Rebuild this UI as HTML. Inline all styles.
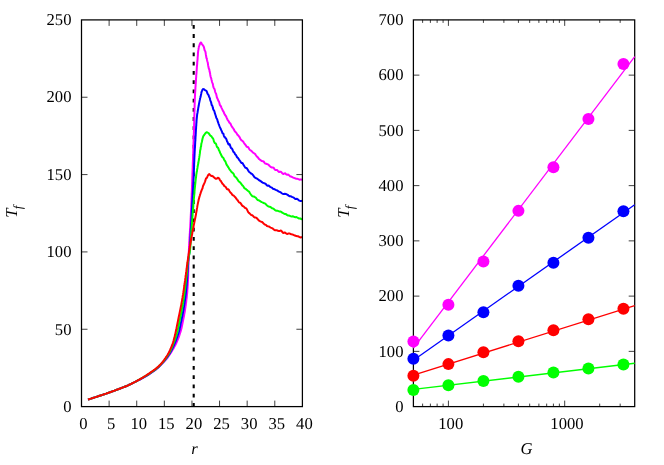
<!DOCTYPE html>
<html><head><meta charset="utf-8"><title>plot</title>
<style>html,body{margin:0;padding:0;background:#fff;}body{width:664px;height:465px;overflow:hidden;}svg{display:block;will-change:transform;text-rendering:geometricPrecision;}text{font-family:"Liberation Serif",serif;fill:#000;}</style>
</head><body>
<svg width="664" height="465" viewBox="0 0 664 465">
<rect x="0" y="0" width="664" height="465" fill="#ffffff"/>
<defs><clipPath id="cl"><rect x="81.5" y="19.9" width="220.9" height="386.7"/></clipPath></defs>
<line x1="193.7" y1="24.9" x2="193.7" y2="406.6" stroke="#000" stroke-width="2.1" stroke-dasharray="3.8 5.42"/>
<polyline points="88.0,399.5 89.0,399.2 89.9,398.9 90.9,398.6 91.8,398.3 92.8,398.0 93.7,397.7 94.7,397.4 95.6,397.1 96.6,396.8 97.5,396.5 98.5,396.1 99.4,395.8 100.4,395.5 101.3,395.2 102.3,394.9 103.2,394.6 104.2,394.3 105.1,393.9 106.1,393.6 107.0,393.3 108.0,393.0 108.9,392.6 109.8,392.3 110.8,392.0 111.7,391.6 112.7,391.3 113.6,390.9 114.5,390.6 115.5,390.2 116.4,389.9 117.4,389.5 118.3,389.2 119.2,388.8 120.2,388.5 121.1,388.1 122.0,387.8 123.0,387.4 123.9,387.1 124.8,386.7 125.8,386.3 126.7,386.0 127.6,385.6 128.5,385.2 129.4,384.7 130.3,384.3 131.2,383.9 132.1,383.4 133.0,383.0 133.9,382.5 134.8,382.1 135.7,381.6 136.6,381.1 137.5,380.7 138.4,380.2 139.3,379.8 140.2,379.3 141.1,378.9 141.9,378.4 142.8,378.0 143.7,377.5 144.6,377.0 145.5,376.5 146.3,376.1 147.2,375.5 148.0,375.0 148.9,374.4 149.7,373.9 150.5,373.3 151.3,372.7 152.2,372.2 153.0,371.6 153.8,371.0 154.6,370.5 155.4,369.9 156.2,369.3 157.0,368.6 157.7,368.0 158.5,367.3 159.2,366.6 159.9,365.9 160.6,365.2 161.3,364.4 162.0,363.7 162.7,363.0 163.4,362.3 164.1,361.6 164.8,360.9 165.5,360.1 166.1,359.4 166.8,358.6 167.4,357.8 168.0,357.0 168.5,356.2 169.1,355.4 169.7,354.5 170.2,353.7 170.8,352.9 171.3,352.0 171.8,351.2 172.3,350.3 172.8,349.4 173.4,348.6 173.9,347.7 174.3,346.8 174.8,345.9 175.3,345.1 175.8,344.2 176.2,343.3 176.6,342.4 177.0,341.5 177.4,340.5 177.8,339.6 178.2,338.7 178.5,337.8 178.9,336.8 179.2,335.9 179.5,334.9 179.8,334.0 180.1,333.0 180.4,332.1 180.7,331.1 181.0,330.1 181.2,329.2 181.5,328.2 181.7,327.2 181.9,326.3 182.1,325.3 182.3,324.3 182.5,323.3 182.7,322.3 182.9,321.3 183.1,320.4 183.3,319.4 183.5,318.4 183.7,317.4 183.9,316.4 184.1,315.5 184.2,314.5 184.4,313.5 184.6,312.5 184.8,311.5 184.9,310.5 185.1,309.5 185.2,308.6 185.4,307.6 185.5,306.6 185.7,305.6 185.8,304.6 185.9,303.6 186.1,302.6 186.2,301.6 186.3,300.6 186.4,299.6 186.6,298.6 186.7,297.6 186.8,296.7 186.9,295.7 187.0,294.7 187.1,293.7 187.2,292.7 187.3,291.7 187.3,290.7 187.4,289.7 187.5,288.7 187.6,287.7 187.6,286.7 187.7,285.7 187.8,284.7 187.8,283.7 187.9,282.7 187.9,281.7 188.0,280.7 188.0,279.7 188.1,278.7 188.1,277.7 188.1,276.7 188.2,275.7 188.2,274.7 188.2,273.7 188.2,272.7 188.3,271.7 188.3,270.7 188.3,269.7 188.4,268.7 188.4,267.7 188.4,266.7 188.4,265.7 188.5,264.7 188.5,263.7 188.5,262.7 188.5,261.7 188.6,260.7 188.6,259.7 188.6,258.7 188.7,257.7 188.7,256.7 188.7,255.7 188.7,254.7 188.8,253.7 188.8,252.7 188.8,251.7 188.9,250.7 188.9,249.7 189.0,248.7 189.0,247.7 189.0,246.7 189.1,245.7 189.1,244.7 189.2,243.7 189.2,242.7 189.3,241.7 189.4,240.7 189.4,239.7 189.5,238.7 189.5,237.7 189.6,236.7 189.7,235.7 189.7,234.7 189.8,233.7 189.9,232.7 189.9,231.7 190.0,230.7 190.0,229.7 190.1,228.7 190.2,227.7 190.2,226.8 190.3,225.8 190.3,224.8 190.4,223.8 190.4,222.8 190.5,221.8 190.5,220.8 190.6,219.8 190.6,218.8 190.7,217.8 190.7,216.8 190.8,215.8 190.8,214.8 190.9,213.8 190.9,212.8 191.0,211.8 191.0,210.8 191.1,209.8 191.1,208.8 191.2,207.8 191.2,206.8 191.2,205.8 191.3,204.8 191.3,203.8 191.4,202.8 191.4,201.8 191.5,200.8 191.5,199.8 191.5,198.8 191.6,197.8 191.6,196.8 191.7,195.8 191.7,194.8 191.7,193.8 191.8,192.8 191.8,191.8 191.9,190.8 191.9,189.8 191.9,188.8 192.0,187.8 192.0,186.8 192.0,185.8 192.1,184.8 192.1,183.8 192.1,182.8 192.2,181.8 192.2,180.8 192.2,179.8 192.3,178.8 192.3,177.8 192.3,176.8 192.4,175.8 192.4,174.8 192.4,173.8 192.5,172.8 192.5,171.8 192.6,170.8 192.6,169.8 192.6,168.8 192.7,167.8 192.7,166.8 192.7,165.8 192.8,164.8 192.8,163.8 192.8,162.8 192.9,161.8 192.9,160.8 193.0,159.8 193.0,158.8 193.0,157.8 193.1,156.8 193.1,155.8 193.1,154.8 193.2,153.8 193.2,152.8 193.2,151.8 193.3,150.8 193.3,149.8 193.3,148.8 193.4,147.8 193.4,146.8 193.4,145.8 193.5,144.8 193.5,143.8 193.5,142.8 193.6,141.8 193.6,140.8 193.6,139.8 193.7,138.8 193.7,137.8 193.7,136.8 193.8,135.8 193.8,134.8 193.8,133.8 193.9,132.8 193.9,131.8 193.9,130.8 194.0,129.8 194.0,128.8 194.0,127.8 194.0,126.8 194.1,125.8 194.1,124.8 194.1,123.8 194.2,122.8 194.2,121.8 194.2,120.8 194.2,119.8 194.3,118.8 194.3,117.8 194.3,116.8 194.3,115.8 194.4,114.8 194.4,113.8 194.4,112.8 194.4,111.8 194.5,110.8 194.5,109.8 194.5,108.8 194.5,107.8 194.6,106.8 194.6,105.8 194.6,104.8 194.7,103.8 194.7,102.8 194.7,101.8 194.8,100.8 194.8,99.8 194.8,98.8 194.9,97.8 194.9,96.8 195.0,95.8 195.0,94.8 195.1,93.8 195.1,92.8 195.2,91.8 195.3,90.8 195.3,89.9 195.4,88.9 195.4,87.9 195.5,86.9 195.6,85.9 195.6,84.9 195.7,83.9 195.8,82.9 195.8,81.9 195.9,80.9 196.0,79.9 196.0,78.9 196.1,77.9 196.2,76.9 196.2,75.9 196.3,74.9 196.4,73.9 196.5,72.9 196.5,71.9 196.6,70.9 196.7,69.9 196.8,68.9 196.8,67.9 196.9,66.9 197.0,65.9 197.1,64.9 197.2,63.9 197.2,62.9 197.3,61.9 197.4,60.9 197.5,59.9 197.6,58.9 197.6,57.9 197.7,56.9 197.8,55.9 197.9,54.9 197.9,53.8 198.0,52.8 198.1,51.8 198.2,50.8 198.4,49.9 198.5,48.9 198.7,47.9 198.8,47.0 199.2,45.9 199.6,44.7 200.1,43.5 200.7,42.5 201.2,42.7 201.7,43.7 202.3,44.6 202.8,45.2 203.3,45.9 203.7,46.6 204.0,47.5 204.4,49.2 204.7,50.5 205.1,51.0 205.4,51.6 205.6,52.7 205.8,54.2 206.0,55.3 206.2,56.5 206.4,57.8 206.6,58.3 206.8,58.4 206.9,59.2 207.1,60.3 207.3,61.2 207.5,61.8 207.8,62.8 208.0,64.3 208.2,65.7 208.5,67.0 208.7,68.1 208.9,69.0 209.2,69.2 209.4,70.0 209.6,71.6 209.9,72.5 210.1,73.5 210.3,75.0 210.6,76.5 210.8,77.3 211.0,77.7 211.3,78.6 211.5,79.7 211.8,80.8 212.0,81.8 212.3,82.6 212.5,83.1 212.8,83.8 213.1,85.5 213.4,87.0 213.7,87.7 214.0,88.3 214.3,88.7 214.6,89.4 214.9,90.5 215.2,92.0 215.6,93.0 215.9,93.4 216.2,94.2 216.6,95.9 216.9,97.5 217.2,98.1 217.6,98.7 217.9,99.8 218.3,100.6 218.6,101.2 219.0,101.7 219.4,103.1 219.8,104.7 220.2,105.5 220.6,105.7 221.0,106.4 221.4,107.6 221.9,108.6 222.4,109.6 222.8,110.6 223.3,111.3 223.8,112.3 224.3,113.5 224.7,114.5 225.2,115.3 225.7,115.8 226.2,116.6 226.6,117.7 227.1,118.8 227.6,119.8 228.1,120.5 228.6,121.2 229.1,122.2 229.6,122.9 230.2,123.3 230.7,124.1 231.2,125.4 231.7,126.4 232.3,127.2 232.8,127.9 233.3,128.4 233.9,129.5 234.4,130.7 235.0,131.5 235.5,132.0 236.1,132.4 236.7,133.4 237.3,134.6 237.8,135.0 238.4,135.7 239.0,136.5 239.6,137.2 240.2,138.5 240.9,139.7 241.5,140.4 242.1,140.7 242.7,141.1 243.4,141.9 244.0,143.0 244.7,144.0 245.4,144.7 246.0,145.6 246.7,146.7 247.4,147.1 248.1,147.1 248.7,148.0 249.4,149.4 250.1,150.1 250.8,150.4 251.5,151.0 252.3,151.9 253.0,152.6 253.7,153.0 254.4,153.5 255.2,154.1 255.9,155.3 256.6,156.3 257.4,156.8 258.2,157.9 258.9,158.9 259.7,159.5 260.5,160.1 261.3,160.6 262.0,161.1 262.8,161.2 263.6,161.4 264.4,162.6 265.3,163.6 266.1,163.7 266.9,164.0 267.7,164.2 268.5,164.8 269.4,165.7 270.2,166.4 271.1,167.2 271.9,167.6 272.8,167.5 273.7,167.9 274.5,169.1 275.4,170.1 276.3,170.0 277.2,170.1 278.1,171.2 279.0,171.9 279.9,171.7 280.8,171.8 281.7,172.6 282.6,173.6 283.5,174.0 284.4,173.4 285.3,173.3 286.2,174.4 287.1,174.7 288.1,174.5 289.0,175.2 289.9,176.2 290.9,176.5 291.8,176.9 292.7,177.4 293.7,177.8 294.6,178.1 295.6,178.5 296.5,178.8 297.5,178.8 298.4,179.2 299.4,179.7 300.3,179.6 301.3,179.6 302.2,179.7 302.4,179.8" fill="none" stroke="#ff00ff" stroke-width="2" stroke-linejoin="round" stroke-linecap="butt" clip-path="url(#cl)"/>
<polyline points="88.0,399.5 89.0,399.2 89.9,398.9 90.9,398.6 91.8,398.3 92.8,398.0 93.7,397.7 94.7,397.4 95.6,397.1 96.6,396.8 97.5,396.5 98.5,396.1 99.4,395.8 100.4,395.5 101.3,395.2 102.3,394.9 103.2,394.6 104.2,394.3 105.1,393.9 106.1,393.6 107.0,393.3 108.0,393.0 108.9,392.6 109.8,392.3 110.8,392.0 111.7,391.6 112.7,391.3 113.6,390.9 114.5,390.6 115.5,390.2 116.4,389.9 117.4,389.5 118.3,389.2 119.2,388.8 120.2,388.5 121.1,388.1 122.0,387.8 123.0,387.4 123.9,387.1 124.8,386.7 125.8,386.3 126.7,386.0 127.6,385.6 128.5,385.2 129.4,384.7 130.3,384.3 131.2,383.9 132.1,383.4 133.0,383.0 133.9,382.5 134.8,382.0 135.7,381.6 136.6,381.1 137.5,380.7 138.3,380.2 139.2,379.8 140.1,379.3 141.0,378.8 141.9,378.4 142.8,377.9 143.7,377.4 144.5,376.9 145.4,376.4 146.3,375.9 147.1,375.4 148.0,374.9 148.8,374.3 149.6,373.8 150.4,373.2 151.3,372.6 152.1,372.0 152.9,371.5 153.7,370.9 154.6,370.3 155.4,369.7 156.2,369.1 156.9,368.5 157.7,367.9 158.4,367.2 159.1,366.5 159.8,365.8 160.5,365.1 161.2,364.3 161.9,363.6 162.6,362.9 163.3,362.1 163.9,361.3 164.6,360.6 165.2,359.8 165.8,359.0 166.4,358.2 167.0,357.4 167.6,356.6 168.2,355.8 168.7,355.0 169.3,354.1 169.8,353.3 170.3,352.4 170.8,351.5 171.3,350.7 171.8,349.8 172.2,348.9 172.6,348.0 173.1,347.1 173.5,346.2 173.9,345.3 174.3,344.4 174.7,343.4 175.1,342.5 175.5,341.6 175.9,340.7 176.3,339.7 176.6,338.8 176.9,337.9 177.3,336.9 177.6,336.0 177.9,335.0 178.2,334.1 178.5,333.1 178.8,332.2 179.1,331.2 179.3,330.2 179.6,329.3 179.8,328.3 180.0,327.3 180.2,326.3 180.4,325.4 180.6,324.4 180.8,323.4 181.0,322.4 181.2,321.4 181.4,320.5 181.6,319.5 181.8,318.5 182.0,317.5 182.2,316.5 182.4,315.5 182.6,314.6 182.8,313.6 183.0,312.6 183.1,311.6 183.3,310.6 183.5,309.6 183.6,308.7 183.8,307.7 184.0,306.7 184.1,305.7 184.3,304.7 184.4,303.7 184.6,302.7 184.7,301.7 184.9,300.8 185.0,299.8 185.1,298.8 185.3,297.8 185.4,296.8 185.5,295.8 185.6,294.8 185.8,293.8 185.9,292.8 186.0,291.8 186.1,290.8 186.2,289.8 186.3,288.8 186.4,287.8 186.5,286.8 186.6,285.9 186.7,284.9 186.7,283.9 186.8,282.9 186.9,281.9 187.0,280.9 187.0,279.9 187.1,278.9 187.2,277.9 187.3,276.9 187.3,275.9 187.4,274.9 187.4,273.9 187.5,272.9 187.6,271.9 187.6,270.9 187.7,269.9 187.8,268.9 187.8,267.9 187.9,266.9 187.9,265.9 188.0,264.9 188.1,263.9 188.1,262.9 188.2,261.9 188.3,260.9 188.4,259.9 188.5,258.9 188.6,257.9 188.8,256.9 188.9,256.0 189.1,255.0 189.2,254.0 189.4,253.0 189.5,252.0 189.6,251.0 189.7,250.0 189.8,249.0 189.9,248.0 189.9,247.0 190.0,246.0 190.1,245.0 190.1,244.0 190.2,243.0 190.2,242.0 190.3,241.0 190.3,240.0 190.4,239.0 190.4,238.0 190.5,237.0 190.5,236.0 190.6,235.0 190.6,234.0 190.7,233.0 190.7,232.0 190.8,231.0 190.8,230.0 190.9,229.0 190.9,228.0 191.0,227.0 191.0,226.0 191.1,225.0 191.1,224.0 191.2,223.0 191.3,222.0 191.3,221.0 191.4,220.0 191.4,219.0 191.5,218.0 191.5,217.1 191.6,216.1 191.6,215.1 191.7,214.1 191.7,213.1 191.8,212.1 191.8,211.1 191.9,210.1 191.9,209.1 192.0,208.1 192.0,207.1 192.1,206.1 192.1,205.1 192.2,204.1 192.2,203.1 192.3,202.1 192.3,201.1 192.4,200.1 192.5,199.1 192.5,198.1 192.6,197.1 192.6,196.1 192.7,195.1 192.7,194.1 192.8,193.1 192.9,192.1 192.9,191.1 193.0,190.1 193.1,189.1 193.1,188.1 193.2,187.1 193.2,186.1 193.3,185.1 193.3,184.1 193.4,183.1 193.4,182.1 193.5,181.1 193.5,180.1 193.6,179.1 193.6,178.1 193.7,177.1 193.7,176.1 193.8,175.1 193.8,174.1 193.8,173.1 193.9,172.1 193.9,171.1 193.9,170.1 194.0,169.1 194.0,168.1 194.0,167.1 194.1,166.1 194.1,165.1 194.1,164.1 194.2,163.1 194.2,162.1 194.3,161.1 194.3,160.1 194.3,159.1 194.4,158.1 194.4,157.1 194.5,156.1 194.5,155.1 194.6,154.1 194.6,153.1 194.7,152.1 194.7,151.1 194.8,150.1 194.8,149.1 194.9,148.1 195.0,147.1 195.0,146.1 195.1,145.1 195.1,144.1 195.2,143.1 195.2,142.1 195.3,141.1 195.4,140.1 195.4,139.1 195.5,138.2 195.5,137.2 195.6,136.2 195.7,135.2 195.7,134.2 195.8,133.2 195.8,132.2 195.9,131.2 195.9,130.2 196.0,129.2 196.1,128.2 196.1,127.2 196.2,126.2 196.3,125.2 196.3,124.2 196.4,123.2 196.5,122.2 196.5,121.2 196.6,120.2 196.7,119.2 196.8,118.2 196.9,117.2 197.0,116.2 197.1,115.2 197.2,114.2 197.4,113.2 197.6,112.2 197.7,111.3 197.9,110.3 198.1,109.3 198.2,108.3 198.4,107.3 198.6,106.3 198.8,105.3 198.9,104.4 199.1,103.4 199.3,102.4 199.5,101.4 199.7,100.4 199.9,99.5 200.1,98.4 200.3,97.8 200.6,96.8 200.8,95.6 201.0,94.7 201.2,93.9 201.4,92.7 201.7,91.6 202.0,90.9 202.4,89.9 203.0,89.1 203.8,89.2 204.7,89.8 205.5,90.3 206.1,90.6 206.6,91.2 207.1,92.4 207.5,93.7 207.9,94.2 208.3,94.6 208.7,95.5 209.1,96.6 209.5,97.5 209.9,98.5 210.2,100.0 210.5,100.9 210.8,101.5 211.1,102.3 211.4,103.7 211.6,104.9 211.9,105.3 212.3,105.7 212.6,106.7 212.9,108.1 213.3,109.5 213.6,110.0 214.0,110.4 214.3,111.1 214.7,112.5 215.0,113.7 215.3,114.5 215.7,115.6 216.0,116.9 216.4,117.9 216.7,118.4 217.0,118.9 217.4,120.0 217.7,121.4 218.0,122.2 218.4,123.2 218.7,124.1 219.1,125.0 219.5,126.1 219.9,127.1 220.3,128.0 220.7,128.7 221.1,129.9 221.6,130.9 222.0,131.7 222.4,133.1 222.9,133.5 223.4,133.7 223.8,135.5 224.3,136.8 224.8,137.0 225.2,137.6 225.7,138.3 226.2,138.8 226.7,140.2 227.1,141.5 227.6,142.2 228.1,143.6 228.6,144.4 229.2,144.0 229.7,144.4 230.2,145.9 230.7,147.4 231.2,148.2 231.8,148.5 232.3,149.1 232.8,150.4 233.4,151.8 233.9,152.1 234.5,152.9 235.0,154.1 235.6,154.7 236.2,155.4 236.8,156.8 237.3,157.5 237.9,157.8 238.5,158.7 239.1,159.8 239.7,160.5 240.4,161.4 241.0,162.5 241.6,163.0 242.3,163.0 242.9,163.7 243.6,164.9 244.2,165.9 244.9,167.1 245.5,167.8 246.2,167.9 246.9,168.4 247.5,169.3 248.2,170.5 248.9,171.6 249.6,172.3 250.3,172.8 251.0,173.5 251.7,173.8 252.4,174.3 253.2,175.3 253.9,176.4 254.6,177.3 255.4,177.9 256.2,178.2 257.0,178.6 257.8,179.1 258.6,179.9 259.4,180.5 260.2,180.8 261.0,181.3 261.9,182.2 262.7,182.7 263.5,182.9 264.4,183.3 265.2,183.6 266.1,184.3 266.9,185.4 267.8,185.8 268.7,185.6 269.5,186.2 270.4,187.1 271.3,187.4 272.2,187.9 273.0,188.8 273.9,189.0 274.8,189.4 275.7,189.9 276.6,190.2 277.6,190.7 278.5,191.4 279.4,191.8 280.3,192.1 281.2,192.8 282.1,193.5 283.0,194.0 283.9,194.0 284.9,193.8 285.8,193.9 286.7,194.3 287.7,194.9 288.6,195.6 289.5,196.2 290.5,196.3 291.4,196.5 292.3,197.1 293.3,197.4 294.2,198.0 295.1,198.9 296.0,199.0 297.0,198.8 297.9,199.3 298.8,200.3 299.7,200.7 300.6,201.0 301.5,200.9 302.4,200.6" fill="none" stroke="#0000ff" stroke-width="2" stroke-linejoin="round" stroke-linecap="butt" clip-path="url(#cl)"/>
<polyline points="88.0,399.5 89.0,399.2 89.9,398.9 90.9,398.6 91.8,398.3 92.8,398.0 93.7,397.7 94.7,397.4 95.6,397.1 96.6,396.8 97.5,396.5 98.5,396.1 99.4,395.8 100.4,395.5 101.3,395.2 102.3,394.9 103.2,394.6 104.2,394.3 105.1,393.9 106.1,393.6 107.0,393.3 108.0,393.0 108.9,392.6 109.8,392.3 110.8,392.0 111.7,391.6 112.7,391.3 113.6,390.9 114.5,390.6 115.5,390.2 116.4,389.9 117.4,389.5 118.3,389.2 119.2,388.8 120.2,388.5 121.1,388.1 122.0,387.8 123.0,387.4 123.9,387.1 124.8,386.7 125.8,386.3 126.7,386.0 127.6,385.6 128.5,385.2 129.4,384.7 130.3,384.3 131.2,383.9 132.1,383.4 133.0,383.0 133.9,382.5 134.8,382.0 135.7,381.6 136.6,381.1 137.4,380.6 138.3,380.2 139.2,379.7 140.1,379.2 141.0,378.7 141.8,378.2 142.7,377.7 143.6,377.2 144.4,376.7 145.3,376.2 146.1,375.7 147.0,375.2 147.8,374.6 148.7,374.1 149.5,373.5 150.3,372.9 151.1,372.4 151.9,371.8 152.8,371.2 153.6,370.7 154.4,370.1 155.2,369.5 156.0,368.9 156.8,368.3 157.5,367.6 158.3,366.9 159.0,366.2 159.7,365.5 160.4,364.8 161.1,364.1 161.8,363.3 162.4,362.6 163.1,361.8 163.7,361.1 164.3,360.3 165.0,359.5 165.6,358.7 166.1,357.9 166.7,357.0 167.3,356.2 167.8,355.4 168.4,354.5 168.9,353.7 169.4,352.8 169.9,351.9 170.3,351.0 170.7,350.2 171.2,349.2 171.6,348.3 172.0,347.4 172.4,346.5 172.7,345.5 173.1,344.6 173.5,343.7 173.8,342.8 174.2,341.8 174.5,340.9 174.9,339.9 175.2,339.0 175.5,338.0 175.8,337.1 176.1,336.1 176.4,335.2 176.6,334.2 176.9,333.2 177.2,332.3 177.4,331.3 177.7,330.3 177.9,329.4 178.1,328.4 178.3,327.4 178.5,326.4 178.7,325.5 178.9,324.5 179.1,323.5 179.3,322.5 179.5,321.5 179.7,320.5 179.9,319.6 180.1,318.6 180.3,317.6 180.5,316.6 180.7,315.6 180.9,314.7 181.1,313.7 181.3,312.7 181.5,311.7 181.6,310.7 181.8,309.8 182.0,308.8 182.2,307.8 182.4,306.8 182.5,305.8 182.7,304.8 182.9,303.9 183.1,302.9 183.2,301.9 183.4,300.9 183.5,299.9 183.7,298.9 183.8,297.9 184.0,296.9 184.1,295.9 184.3,295.0 184.4,294.0 184.5,293.0 184.7,292.0 184.8,291.0 184.9,290.0 185.0,289.0 185.2,288.0 185.3,287.0 185.4,286.0 185.5,285.0 185.6,284.0 185.7,283.0 185.8,282.1 185.9,281.1 186.0,280.1 186.1,279.1 186.2,278.1 186.3,277.1 186.5,276.1 186.6,275.1 186.7,274.1 186.8,273.1 186.9,272.1 187.0,271.1 187.1,270.1 187.2,269.1 187.3,268.1 187.3,267.1 187.4,266.1 187.5,265.1 187.6,264.1 187.7,263.1 187.8,262.2 188.0,261.2 188.1,260.2 188.3,259.2 188.5,258.2 188.7,257.2 188.9,256.2 189.1,255.3 189.3,254.3 189.5,253.3 189.7,252.3 189.8,251.3 190.0,250.3 190.1,249.4 190.2,248.4 190.3,247.4 190.4,246.4 190.4,245.4 190.5,244.4 190.6,243.4 190.7,242.4 190.8,241.4 190.8,240.4 190.9,239.4 190.9,238.4 191.0,237.4 191.1,236.4 191.1,235.4 191.2,234.4 191.3,233.4 191.3,232.4 191.4,231.4 191.4,230.4 191.5,229.4 191.6,228.4 191.7,227.4 191.7,226.4 191.8,225.4 191.9,224.4 192.0,223.4 192.0,222.4 192.1,221.4 192.2,220.4 192.3,219.4 192.3,218.4 192.4,217.4 192.5,216.4 192.6,215.4 192.6,214.4 192.7,213.4 192.8,212.4 192.9,211.5 192.9,210.5 193.0,209.5 193.1,208.5 193.2,207.5 193.3,206.5 193.3,205.5 193.4,204.5 193.5,203.5 193.6,202.5 193.7,201.5 193.8,200.5 193.8,199.5 193.9,198.5 194.0,197.5 194.1,196.5 194.2,195.5 194.3,194.5 194.4,193.5 194.5,192.5 194.5,191.5 194.6,190.5 194.7,189.5 194.8,188.5 194.9,187.5 195.0,186.5 195.1,185.5 195.2,184.5 195.3,183.6 195.4,182.6 195.5,181.6 195.6,180.6 195.7,179.6 195.8,178.6 196.0,177.6 196.1,176.6 196.2,175.6 196.3,174.6 196.5,173.6 196.6,172.6 196.8,171.7 197.0,170.7 197.1,169.7 197.3,168.7 197.5,167.7 197.6,166.7 197.8,165.7 198.0,164.8 198.2,163.8 198.4,162.8 198.5,161.8 198.7,160.8 198.9,159.8 199.0,158.8 199.2,157.9 199.3,156.9 199.5,155.9 199.6,154.9 199.8,153.9 199.9,152.9 200.1,150.8 200.2,150.1 200.4,149.7 200.6,148.8 200.7,147.4 200.9,146.7 201.1,146.3 201.2,144.9 201.4,143.5 201.6,142.8 201.7,142.5 201.9,141.7 202.1,140.7 202.3,139.8 202.5,138.8 202.8,137.7 203.1,136.7 203.5,135.8 204.2,135.0 205.0,133.8 205.9,132.6 206.7,132.3 207.5,132.5 208.4,133.0 209.3,134.1 210.2,135.5 210.9,136.0 211.5,136.3 212.0,137.2 212.5,138.0 213.0,138.4 213.5,139.6 213.9,141.4 214.4,142.4 214.8,143.0 215.2,143.2 215.7,143.4 216.2,144.4 216.6,145.8 217.1,147.0 217.6,147.5 218.0,147.7 218.5,148.9 218.9,150.2 219.4,150.9 219.8,152.0 220.3,153.2 220.8,154.1 221.2,155.0 221.7,156.1 222.2,157.0 222.7,157.3 223.2,157.7 223.7,158.6 224.1,159.7 224.6,160.5 225.1,161.1 225.6,162.0 226.1,163.5 226.7,164.9 227.2,165.6 227.7,166.2 228.2,167.2 228.8,168.0 229.3,168.9 229.9,169.9 230.5,170.5 231.0,171.3 231.6,172.0 232.2,172.6 232.8,173.0 233.4,173.5 234.0,174.8 234.6,176.3 235.2,176.8 235.8,177.3 236.4,177.9 237.0,178.7 237.7,179.8 238.3,180.8 239.0,181.6 239.6,182.0 240.3,182.6 240.9,183.4 241.6,184.3 242.2,185.3 242.9,185.7 243.6,186.7 244.3,188.1 244.9,188.5 245.6,188.8 246.3,189.4 247.0,190.0 247.8,190.7 248.5,191.2 249.2,191.8 249.9,193.0 250.7,194.2 251.4,195.2 252.2,196.1 252.9,196.5 253.7,196.4 254.5,196.9 255.3,197.3 256.1,198.0 256.9,199.3 257.7,200.0 258.5,200.2 259.3,200.6 260.2,201.2 261.0,201.8 261.8,202.1 262.7,202.4 263.5,203.1 264.4,203.3 265.3,203.6 266.1,204.5 267.0,205.4 267.8,206.1 268.7,206.5 269.6,206.7 270.5,207.0 271.3,207.7 272.2,208.3 273.1,208.5 274.0,209.1 274.9,210.0 275.8,210.6 276.7,210.7 277.7,210.8 278.6,211.2 279.5,211.6 280.4,211.5 281.3,211.9 282.2,212.6 283.2,213.2 284.1,213.7 285.0,214.0 285.9,214.1 286.9,214.9 287.8,215.5 288.8,215.6 289.7,215.8 290.6,216.2 291.6,216.4 292.5,216.3 293.5,216.5 294.5,217.1 295.4,217.2 296.4,217.0 297.3,217.5 298.3,218.2 299.3,218.5 300.3,218.5 301.3,219.0 302.2,219.3 302.4,218.9" fill="none" stroke="#00ff00" stroke-width="2" stroke-linejoin="round" stroke-linecap="butt" clip-path="url(#cl)"/>
<polyline points="88.0,399.5 89.0,399.2 89.9,398.9 90.9,398.6 91.8,398.3 92.8,398.0 93.7,397.7 94.7,397.4 95.6,397.1 96.6,396.8 97.5,396.5 98.5,396.1 99.4,395.8 100.4,395.5 101.3,395.2 102.3,394.9 103.2,394.6 104.2,394.3 105.1,393.9 106.1,393.6 107.0,393.3 108.0,393.0 108.9,392.6 109.8,392.3 110.8,392.0 111.7,391.6 112.7,391.3 113.6,390.9 114.5,390.6 115.5,390.2 116.4,389.9 117.4,389.5 118.3,389.2 119.2,388.8 120.2,388.5 121.1,388.1 122.0,387.8 123.0,387.4 123.9,387.1 124.8,386.7 125.8,386.3 126.7,386.0 127.6,385.6 128.5,385.2 129.4,384.7 130.3,384.3 131.2,383.9 132.1,383.4 133.0,382.9 133.9,382.5 134.8,382.0 135.7,381.5 136.5,381.1 137.4,380.6 138.3,380.1 139.2,379.6 140.0,379.1 140.9,378.6 141.8,378.1 142.6,377.6 143.5,377.1 144.3,376.5 145.2,376.0 146.0,375.5 146.9,374.9 147.7,374.4 148.5,373.8 149.3,373.3 150.2,372.7 151.0,372.1 151.8,371.5 152.6,371.0 153.5,370.4 154.3,369.8 155.1,369.2 155.9,368.6 156.6,368.0 157.4,367.4 158.1,366.7 158.9,366.0 159.6,365.3 160.3,364.6 161.0,363.8 161.6,363.1 162.3,362.3 162.9,361.6 163.5,360.8 164.1,360.0 164.7,359.1 165.3,358.3 165.8,357.5 166.4,356.7 167.0,355.8 167.5,355.0 168.0,354.1 168.5,353.2 169.0,352.4 169.4,351.5 169.8,350.6 170.2,349.7 170.6,348.7 171.0,347.8 171.4,346.9 171.8,346.0 172.1,345.0 172.5,344.1 172.8,343.1 173.1,342.2 173.4,341.2 173.7,340.3 173.9,339.3 174.2,338.3 174.5,337.4 174.7,336.4 174.9,335.4 175.2,334.4 175.4,333.5 175.6,332.5 175.8,331.5 176.0,330.5 176.3,329.6 176.5,328.6 176.6,327.6 176.8,326.6 177.0,325.6 177.2,324.7 177.4,323.7 177.6,322.7 177.8,321.7 178.0,320.7 178.2,319.7 178.4,318.8 178.6,317.8 178.8,316.8 179.0,315.8 179.2,314.9 179.4,313.9 179.6,312.9 179.8,311.9 180.0,310.9 180.2,310.0 180.4,309.0 180.6,308.0 180.8,307.0 181.0,306.0 181.2,305.1 181.4,304.1 181.5,303.1 181.7,302.1 181.9,301.1 182.1,300.1 182.2,299.1 182.4,298.2 182.6,297.2 182.7,296.2 182.9,295.2 183.1,294.2 183.2,293.2 183.4,292.2 183.5,291.2 183.7,290.3 183.8,289.3 184.0,288.3 184.1,287.3 184.2,286.3 184.4,285.3 184.5,284.3 184.7,283.3 184.8,282.3 184.9,281.4 185.1,280.4 185.2,279.4 185.3,278.4 185.5,277.4 185.6,276.4 185.7,275.4 185.9,274.4 186.0,273.4 186.1,272.4 186.3,271.4 186.4,270.5 186.5,269.5 186.7,268.5 186.8,267.5 186.9,266.5 187.1,265.5 187.2,264.5 187.3,263.5 187.5,262.5 187.6,261.5 187.8,260.5 187.9,259.6 188.0,258.6 188.2,257.6 188.3,256.6 188.5,255.6 188.6,254.6 188.7,253.6 188.9,252.6 189.0,251.6 189.2,250.6 189.4,249.7 189.5,248.7 189.7,247.7 189.8,246.7 190.0,245.7 190.2,244.7 190.4,243.7 190.5,242.8 190.7,241.8 190.9,240.8 191.1,239.8 191.2,238.8 191.4,237.8 191.6,236.9 191.8,235.9 192.0,234.9 192.2,233.9 192.3,232.9 192.5,231.9 192.7,231.0 192.9,230.0 193.1,229.0 193.3,228.0 193.5,227.0 193.6,226.0 193.8,225.1 194.0,224.1 194.2,223.1 194.4,222.1 194.6,221.1 194.8,220.2 195.0,219.2 195.2,218.2 195.4,217.2 195.6,216.2 195.8,215.3 196.0,214.3 196.1,213.3 196.3,212.3 196.5,211.3 196.7,210.3 196.8,209.3 197.0,208.4 197.2,207.4 197.3,206.4 197.5,205.4 197.7,204.4 197.9,203.4 198.1,202.4 198.3,201.5 198.5,200.5 198.7,199.5 199.0,198.6 199.2,197.6 199.5,196.6 199.8,195.7 200.1,194.5 200.5,193.6 200.8,192.4 201.1,191.6 201.5,190.8 201.8,189.7 202.1,189.1 202.5,188.4 202.8,186.9 203.1,185.7 203.5,185.1 203.8,184.3 204.2,183.5 204.6,182.6 205.0,181.6 205.4,180.4 205.9,178.8 206.3,178.1 206.9,177.8 207.4,176.6 208.0,175.4 208.6,174.5 209.2,174.1 209.8,174.5 210.5,175.5 211.2,175.9 212.0,175.8 212.9,176.3 213.9,177.3 214.9,178.1 216.0,178.8 217.0,178.5 217.8,177.7 218.6,177.9 219.3,178.8 219.9,180.0 220.5,180.8 221.1,181.3 221.7,182.6 222.3,183.6 222.9,184.0 223.6,184.8 224.2,186.0 224.9,186.4 225.5,186.7 226.2,187.8 226.9,189.1 227.6,189.4 228.2,189.2 228.9,189.9 229.5,191.2 230.2,192.3 230.9,192.9 231.5,193.5 232.2,194.7 232.9,195.3 233.5,195.4 234.2,196.1 234.9,197.0 235.6,197.6 236.3,198.7 237.0,199.6 237.7,200.3 238.4,201.5 239.1,202.4 239.8,202.6 240.5,203.1 241.2,204.1 241.9,205.3 242.6,206.0 243.3,206.2 244.0,206.7 244.7,207.7 245.4,208.1 246.1,208.3 246.8,209.1 247.5,210.6 248.2,212.1 248.9,212.9 249.6,213.4 250.3,214.1 251.0,214.9 251.7,215.2 252.5,215.3 253.2,216.1 254.0,217.0 254.7,217.6 255.5,217.6 256.3,217.7 257.1,218.5 257.9,219.4 258.7,220.4 259.5,220.9 260.3,221.3 261.1,221.7 261.9,221.9 262.8,222.6 263.6,223.5 264.5,224.4 265.3,224.7 266.2,225.1 267.0,226.1 267.9,226.3 268.8,226.4 269.7,227.0 270.6,227.6 271.5,227.9 272.4,228.3 273.3,229.1 274.2,229.8 275.2,230.3 276.1,230.3 277.1,230.3 278.0,230.8 279.0,231.1 279.9,230.9 280.9,230.5 281.8,231.3 282.8,232.7 283.7,232.9 284.7,232.4 285.6,233.0 286.6,233.8 287.6,233.9 288.5,233.4 289.5,233.4 290.5,234.0 291.4,234.3 292.4,234.4 293.4,234.9 294.4,235.4 295.3,235.6 296.3,236.1 297.3,236.3 298.3,236.3 299.2,236.9 300.2,237.4 301.2,237.2 302.2,237.2 302.4,237.3" fill="none" stroke="#ff0000" stroke-width="2" stroke-linejoin="round" stroke-linecap="butt" clip-path="url(#cl)"/>
<line x1="109.11" y1="406.60" x2="109.11" y2="400.60" stroke="#000" stroke-width="0.75"/>
<line x1="109.11" y1="19.90" x2="109.11" y2="25.90" stroke="#000" stroke-width="0.75"/>
<line x1="136.72" y1="406.60" x2="136.72" y2="400.60" stroke="#000" stroke-width="0.75"/>
<line x1="136.72" y1="19.90" x2="136.72" y2="25.90" stroke="#000" stroke-width="0.75"/>
<line x1="164.34" y1="406.60" x2="164.34" y2="400.60" stroke="#000" stroke-width="0.75"/>
<line x1="164.34" y1="19.90" x2="164.34" y2="25.90" stroke="#000" stroke-width="0.75"/>
<line x1="191.95" y1="406.60" x2="191.95" y2="400.60" stroke="#000" stroke-width="0.75"/>
<line x1="191.95" y1="19.90" x2="191.95" y2="25.90" stroke="#000" stroke-width="0.75"/>
<line x1="219.56" y1="406.60" x2="219.56" y2="400.60" stroke="#000" stroke-width="0.75"/>
<line x1="219.56" y1="19.90" x2="219.56" y2="25.90" stroke="#000" stroke-width="0.75"/>
<line x1="247.17" y1="406.60" x2="247.17" y2="400.60" stroke="#000" stroke-width="0.75"/>
<line x1="247.17" y1="19.90" x2="247.17" y2="25.90" stroke="#000" stroke-width="0.75"/>
<line x1="274.79" y1="406.60" x2="274.79" y2="400.60" stroke="#000" stroke-width="0.75"/>
<line x1="274.79" y1="19.90" x2="274.79" y2="25.90" stroke="#000" stroke-width="0.75"/>
<line x1="81.50" y1="329.26" x2="87.50" y2="329.26" stroke="#000" stroke-width="0.75"/>
<line x1="302.40" y1="329.26" x2="296.40" y2="329.26" stroke="#000" stroke-width="0.75"/>
<line x1="81.50" y1="251.92" x2="87.50" y2="251.92" stroke="#000" stroke-width="0.75"/>
<line x1="302.40" y1="251.92" x2="296.40" y2="251.92" stroke="#000" stroke-width="0.75"/>
<line x1="81.50" y1="174.58" x2="87.50" y2="174.58" stroke="#000" stroke-width="0.75"/>
<line x1="302.40" y1="174.58" x2="296.40" y2="174.58" stroke="#000" stroke-width="0.75"/>
<line x1="81.50" y1="97.24" x2="87.50" y2="97.24" stroke="#000" stroke-width="0.75"/>
<line x1="302.40" y1="97.24" x2="296.40" y2="97.24" stroke="#000" stroke-width="0.75"/>
<rect x="81.50" y="19.90" width="220.90" height="386.70" fill="none" stroke="#000" stroke-width="1.25"/>
<g transform="translate(83.50,428.90) scale(0.1)"><text x="0" y="0" font-size="166.7" text-anchor="middle">0</text></g>
<g transform="translate(111.11,428.90) scale(0.1)"><text x="0" y="0" font-size="166.7" text-anchor="middle">5</text></g>
<g transform="translate(138.72,428.90) scale(0.1)"><text x="0" y="0" font-size="166.7" text-anchor="middle">10</text></g>
<g transform="translate(166.34,428.90) scale(0.1)"><text x="0" y="0" font-size="166.7" text-anchor="middle">15</text></g>
<g transform="translate(193.95,428.90) scale(0.1)"><text x="0" y="0" font-size="166.7" text-anchor="middle">20</text></g>
<g transform="translate(221.56,428.90) scale(0.1)"><text x="0" y="0" font-size="166.7" text-anchor="middle">25</text></g>
<g transform="translate(249.17,428.90) scale(0.1)"><text x="0" y="0" font-size="166.7" text-anchor="middle">30</text></g>
<g transform="translate(276.79,428.90) scale(0.1)"><text x="0" y="0" font-size="166.7" text-anchor="middle">35</text></g>
<g transform="translate(304.40,428.90) scale(0.1)"><text x="0" y="0" font-size="166.7" text-anchor="middle">40</text></g>
<g transform="translate(71.50,411.85) scale(0.1)"><text x="0" y="0" font-size="166.7" text-anchor="end">0</text></g>
<g transform="translate(71.50,334.51) scale(0.1)"><text x="0" y="0" font-size="166.7" text-anchor="end">50</text></g>
<g transform="translate(71.50,257.17) scale(0.1)"><text x="0" y="0" font-size="166.7" text-anchor="end">100</text></g>
<g transform="translate(71.50,179.83) scale(0.1)"><text x="0" y="0" font-size="166.7" text-anchor="end">150</text></g>
<g transform="translate(71.50,102.49) scale(0.1)"><text x="0" y="0" font-size="166.7" text-anchor="end">200</text></g>
<g transform="translate(71.50,25.15) scale(0.1)"><text x="0" y="0" font-size="166.7" text-anchor="end">250</text></g>
<line x1="448.41" y1="406.60" x2="448.41" y2="400.60" stroke="#000" stroke-width="0.75"/>
<line x1="448.41" y1="19.90" x2="448.41" y2="25.90" stroke="#000" stroke-width="0.75"/>
<line x1="564.69" y1="406.60" x2="564.69" y2="400.60" stroke="#000" stroke-width="0.75"/>
<line x1="564.69" y1="19.90" x2="564.69" y2="25.90" stroke="#000" stroke-width="0.75"/>
<line x1="422.61" y1="406.60" x2="422.61" y2="403.60" stroke="#000" stroke-width="0.75"/>
<line x1="422.61" y1="19.90" x2="422.61" y2="22.90" stroke="#000" stroke-width="0.75"/>
<line x1="430.39" y1="406.60" x2="430.39" y2="403.60" stroke="#000" stroke-width="0.75"/>
<line x1="430.39" y1="19.90" x2="430.39" y2="22.90" stroke="#000" stroke-width="0.75"/>
<line x1="437.14" y1="406.60" x2="437.14" y2="403.60" stroke="#000" stroke-width="0.75"/>
<line x1="437.14" y1="19.90" x2="437.14" y2="22.90" stroke="#000" stroke-width="0.75"/>
<line x1="443.08" y1="406.60" x2="443.08" y2="403.60" stroke="#000" stroke-width="0.75"/>
<line x1="443.08" y1="19.90" x2="443.08" y2="22.90" stroke="#000" stroke-width="0.75"/>
<line x1="483.41" y1="406.60" x2="483.41" y2="403.60" stroke="#000" stroke-width="0.75"/>
<line x1="483.41" y1="19.90" x2="483.41" y2="22.90" stroke="#000" stroke-width="0.75"/>
<line x1="503.89" y1="406.60" x2="503.89" y2="403.60" stroke="#000" stroke-width="0.75"/>
<line x1="503.89" y1="19.90" x2="503.89" y2="22.90" stroke="#000" stroke-width="0.75"/>
<line x1="518.42" y1="406.60" x2="518.42" y2="403.60" stroke="#000" stroke-width="0.75"/>
<line x1="518.42" y1="19.90" x2="518.42" y2="22.90" stroke="#000" stroke-width="0.75"/>
<line x1="529.68" y1="406.60" x2="529.68" y2="403.60" stroke="#000" stroke-width="0.75"/>
<line x1="529.68" y1="19.90" x2="529.68" y2="22.90" stroke="#000" stroke-width="0.75"/>
<line x1="538.89" y1="406.60" x2="538.89" y2="403.60" stroke="#000" stroke-width="0.75"/>
<line x1="538.89" y1="19.90" x2="538.89" y2="22.90" stroke="#000" stroke-width="0.75"/>
<line x1="546.68" y1="406.60" x2="546.68" y2="403.60" stroke="#000" stroke-width="0.75"/>
<line x1="546.68" y1="19.90" x2="546.68" y2="22.90" stroke="#000" stroke-width="0.75"/>
<line x1="553.42" y1="406.60" x2="553.42" y2="403.60" stroke="#000" stroke-width="0.75"/>
<line x1="553.42" y1="19.90" x2="553.42" y2="22.90" stroke="#000" stroke-width="0.75"/>
<line x1="559.37" y1="406.60" x2="559.37" y2="403.60" stroke="#000" stroke-width="0.75"/>
<line x1="559.37" y1="19.90" x2="559.37" y2="22.90" stroke="#000" stroke-width="0.75"/>
<line x1="599.69" y1="406.60" x2="599.69" y2="403.60" stroke="#000" stroke-width="0.75"/>
<line x1="599.69" y1="19.90" x2="599.69" y2="22.90" stroke="#000" stroke-width="0.75"/>
<line x1="620.17" y1="406.60" x2="620.17" y2="403.60" stroke="#000" stroke-width="0.75"/>
<line x1="620.17" y1="19.90" x2="620.17" y2="22.90" stroke="#000" stroke-width="0.75"/>
<line x1="413.40" y1="351.36" x2="419.40" y2="351.36" stroke="#000" stroke-width="0.75"/>
<line x1="634.70" y1="351.36" x2="628.70" y2="351.36" stroke="#000" stroke-width="0.75"/>
<line x1="413.40" y1="296.11" x2="419.40" y2="296.11" stroke="#000" stroke-width="0.75"/>
<line x1="634.70" y1="296.11" x2="628.70" y2="296.11" stroke="#000" stroke-width="0.75"/>
<line x1="413.40" y1="240.87" x2="419.40" y2="240.87" stroke="#000" stroke-width="0.75"/>
<line x1="634.70" y1="240.87" x2="628.70" y2="240.87" stroke="#000" stroke-width="0.75"/>
<line x1="413.40" y1="185.63" x2="419.40" y2="185.63" stroke="#000" stroke-width="0.75"/>
<line x1="634.70" y1="185.63" x2="628.70" y2="185.63" stroke="#000" stroke-width="0.75"/>
<line x1="413.40" y1="130.39" x2="419.40" y2="130.39" stroke="#000" stroke-width="0.75"/>
<line x1="634.70" y1="130.39" x2="628.70" y2="130.39" stroke="#000" stroke-width="0.75"/>
<line x1="413.40" y1="75.14" x2="419.40" y2="75.14" stroke="#000" stroke-width="0.75"/>
<line x1="634.70" y1="75.14" x2="628.70" y2="75.14" stroke="#000" stroke-width="0.75"/>
<rect x="413.40" y="19.90" width="221.30" height="386.70" fill="none" stroke="#000" stroke-width="1.25"/>
<g transform="translate(450.71,428.90) scale(0.1)"><text x="0" y="0" font-size="166.7" text-anchor="middle">100</text></g>
<g transform="translate(566.99,428.90) scale(0.1)"><text x="0" y="0" font-size="166.7" text-anchor="middle">1000</text></g>
<g transform="translate(403.50,411.85) scale(0.1)"><text x="0" y="0" font-size="166.7" text-anchor="end">0</text></g>
<g transform="translate(403.50,356.61) scale(0.1)"><text x="0" y="0" font-size="166.7" text-anchor="end">100</text></g>
<g transform="translate(403.50,301.36) scale(0.1)"><text x="0" y="0" font-size="166.7" text-anchor="end">200</text></g>
<g transform="translate(403.50,246.12) scale(0.1)"><text x="0" y="0" font-size="166.7" text-anchor="end">300</text></g>
<g transform="translate(403.50,190.88) scale(0.1)"><text x="0" y="0" font-size="166.7" text-anchor="end">400</text></g>
<g transform="translate(403.50,135.64) scale(0.1)"><text x="0" y="0" font-size="166.7" text-anchor="end">500</text></g>
<g transform="translate(403.50,80.39) scale(0.1)"><text x="0" y="0" font-size="166.7" text-anchor="end">600</text></g>
<g transform="translate(403.50,25.15) scale(0.1)"><text x="0" y="0" font-size="166.7" text-anchor="end">700</text></g>
<line x1="413.40" y1="348.04" x2="634.70" y2="56.64" stroke="#ff00ff" stroke-width="1.3"/>
<line x1="413.40" y1="360.20" x2="634.70" y2="204.69" stroke="#0000ff" stroke-width="1.3"/>
<line x1="413.40" y1="375.11" x2="634.70" y2="305.62" stroke="#ff0000" stroke-width="1.3"/>
<line x1="413.40" y1="389.47" x2="634.70" y2="363.23" stroke="#00ff00" stroke-width="1.3"/>
<circle cx="413.40" cy="341.41" r="6.0" fill="#ff00ff"/>
<circle cx="448.41" cy="304.84" r="6.0" fill="#ff00ff"/>
<circle cx="483.41" cy="261.42" r="6.0" fill="#ff00ff"/>
<circle cx="518.42" cy="210.87" r="6.0" fill="#ff00ff"/>
<circle cx="553.42" cy="167.29" r="6.0" fill="#ff00ff"/>
<circle cx="588.43" cy="118.90" r="6.0" fill="#ff00ff"/>
<circle cx="623.43" cy="63.93" r="6.0" fill="#ff00ff"/>
<circle cx="413.40" cy="358.70" r="6.0" fill="#0000ff"/>
<circle cx="448.41" cy="335.50" r="6.0" fill="#0000ff"/>
<circle cx="483.41" cy="312.36" r="6.0" fill="#0000ff"/>
<circle cx="518.42" cy="285.84" r="6.0" fill="#0000ff"/>
<circle cx="553.42" cy="262.75" r="6.0" fill="#0000ff"/>
<circle cx="588.43" cy="237.67" r="6.0" fill="#0000ff"/>
<circle cx="623.43" cy="211.15" r="6.0" fill="#0000ff"/>
<circle cx="413.40" cy="375.72" r="6.0" fill="#ff0000"/>
<circle cx="448.41" cy="364.12" r="6.0" fill="#ff0000"/>
<circle cx="483.41" cy="352.19" r="6.0" fill="#ff0000"/>
<circle cx="518.42" cy="341.14" r="6.0" fill="#ff0000"/>
<circle cx="553.42" cy="330.25" r="6.0" fill="#ff0000"/>
<circle cx="588.43" cy="319.32" r="6.0" fill="#ff0000"/>
<circle cx="623.43" cy="308.71" r="6.0" fill="#ff0000"/>
<circle cx="413.40" cy="389.92" r="6.0" fill="#00ff00"/>
<circle cx="448.41" cy="385.33" r="6.0" fill="#00ff00"/>
<circle cx="483.41" cy="381.02" r="6.0" fill="#00ff00"/>
<circle cx="518.42" cy="376.66" r="6.0" fill="#00ff00"/>
<circle cx="553.42" cy="372.46" r="6.0" fill="#00ff00"/>
<circle cx="588.43" cy="368.54" r="6.0" fill="#00ff00"/>
<circle cx="623.43" cy="364.39" r="6.0" fill="#00ff00"/>
<g transform="translate(194.50,453.70) scale(0.1)"><text x="0" y="0" font-size="166.7" text-anchor="middle" font-style="italic">r</text></g>
<g transform="translate(526.40,453.70) scale(0.1)"><text x="0" y="0" font-size="166.7" text-anchor="middle" font-style="italic">G</text></g>
<g transform="translate(16.9,217.8) rotate(-90) scale(0.1)"><text x="0" y="0" font-size="166.7" font-style="italic">T<tspan dx="-8" dy="50" font-size="126.7">f</tspan></text></g>
<g transform="translate(348.8,217.8) rotate(-90) scale(0.1)"><text x="0" y="0" font-size="166.7" font-style="italic">T<tspan dx="-8" dy="50" font-size="126.7">f</tspan></text></g>
</svg></body></html>
